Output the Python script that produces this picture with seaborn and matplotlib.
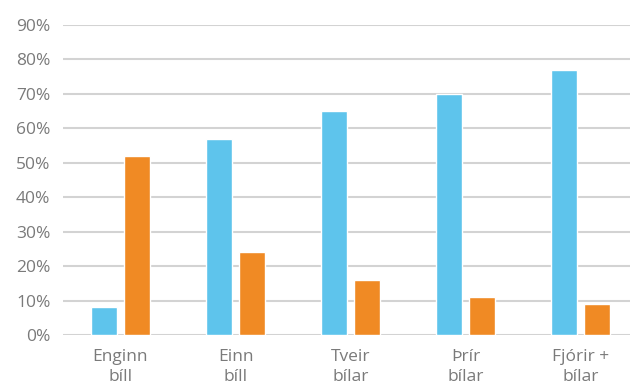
import pandas as pd
import matplotlib.pyplot as plt
import seaborn as sns

# Gögn lesin af myndinni
flokkar = ["Enginn\nbíll", "Einn\nbíll", "Tveir\nbílar", "Þrír\nbílar", "Fjórir +\nbílar"]
blar = [8, 57, 65, 70, 77]
appelsinugul = [52, 24, 16, 11, 9]
hopar = ["A", "B"]

df = pd.DataFrame({
    "flokkur": flokkar * 2,
    "gildi": blar + appelsinugul,
    "hopur": [hopar[0]] * len(flokkar) + [hopar[1]] * len(flokkar),
})

sns.set_theme(style="white")
plt.rcParams['font.family'] = ['Open Sans', 'DejaVu Sans']

fig = plt.figure(figsize=(6.3, 3.81), dpi=100)
ax = fig.add_axes([63 / 630, 46 / 381, 575 / 630, 310 / 381])

sns.barplot(data=df, x="flokkur", y="gildi", hue="hopur",
            palette=["#5EC4EC", "#F08A24"], width=0.574, gap=0.21,
            saturation=1, legend=False, ax=ax, zorder=3)

ax.set_ylim(0, 90)
ax.set_xlim(-0.5, 4.5)
ax.set_yticks(range(0, 91, 10))
ax.set_yticklabels([f"{v}%" for v in range(0, 91, 10)])
ax.yaxis.grid(True, color="#d3d3d3", linewidth=1.5, zorder=0)
ax.set_axisbelow(True)
for s in ax.spines.values():
    s.set_visible(False)
ax.set_xlabel("")
ax.set_ylabel("")
ax.tick_params(axis="both", length=0, labelsize=12.5, labelcolor="#7a7a7a")
ax.tick_params(axis="y", pad=9)
ax.tick_params(axis="x", pad=10)
for lbl in ax.get_xticklabels():
    lbl.set_linespacing(1.35)

fig.savefig("out.png", dpi=100)
